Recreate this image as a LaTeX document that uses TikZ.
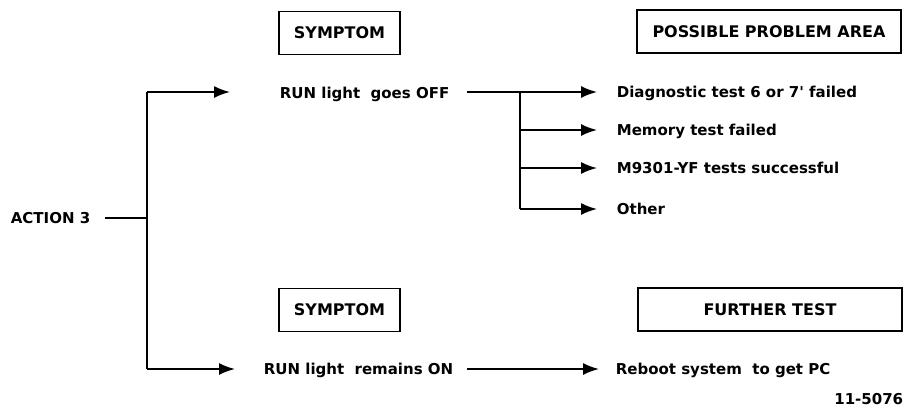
\documentclass[tikz,border=0pt]{standalone}
\usepackage{fontspec}
\setmainfont{DejaVu Sans}
\usetikzlibrary{arrows.meta}
\begin{document}
\begin{tikzpicture}[x=1pt,y=-1pt,
  line width=1.7pt,
  arr/.style={-{Latex[length=16pt,width=12pt]}},
  txt/.style={inner sep=0pt, text height=11pt, text depth=0pt, anchor=west, font=\bfseries\fontsize{15}{17}\selectfont},
  hdr/.style={draw, line width=1.4pt, minimum height=43pt, inner sep=0pt, font=\bfseries\fontsize{16}{18}\selectfont}
]
\useasboundingbox (0,0) rectangle (908,410);
% header boxes
\node[hdr, minimum width=121pt] (sym1) at (339.5,33) {SYMPTOM};
\node[hdr, minimum width=264pt] (ppa) at (769,31.5) {POSSIBLE PROBLEM AREA};
\node[hdr, minimum width=121pt] (sym2) at (339.5,310) {SYMPTOM};
\node[hdr, minimum width=264pt] (ft) at (770,309.5) {FURTHER TEST};
% texts
\node[txt] (act) at (10,218) {ACTION 3};
\node[txt] (run1) at (279,93) {RUN light\ \ goes OFF};
\node[txt] (run2) at (263,369) {RUN light\ \ remains ON};
\node[txt] (diag) at (616,92) {Diagnostic test 6 or 7\textquotesingle{} failed};
\node[txt] (mem) at (616,130) {Memory test failed};
\node[txt] (m93) at (616,168) {M9301-YF tests successful};
\node[txt] (oth) at (616,209) {Other};
\node[txt] (reb) at (615,369) {Reboot system\ \ to get PC};
\node[txt, anchor=east] (num) at (904,399) {11-5076};
% left bracket
\coordinate (ja) at (147,218);
\coordinate (jt) at (147,92);
\coordinate (jb) at (147,369);
\coordinate (acts) at (105,218);
\draw (acts) -- (ja);
\draw (jt) -- (jb);
\draw[arr] (jt) -- ([xshift=-49pt]run1.west |- jt);
\draw[arr] (jb) -- ([xshift=-28pt]run2.west);
% right fan
\coordinate (s1) at (467,92);
\coordinate (j1) at (520,92);
\coordinate (j4) at (520,209);
\draw (s1) -- (j1);
\draw (j1) -- (j4);
\draw[arr] (j1) -- ([xshift=-19pt]diag.west);
\draw[arr] (j1 |- mem.west) -- ([xshift=-19pt]mem.west);
\draw[arr] (j1 |- m93.west) -- ([xshift=-19pt]m93.west);
\draw[arr] (j4) -- ([xshift=-19pt]oth.west);
% bottom
\coordinate (s2) at (467,369);
\draw[arr] (s2) -- ([xshift=-16pt]reb.west);
\end{tikzpicture}
\end{document}
